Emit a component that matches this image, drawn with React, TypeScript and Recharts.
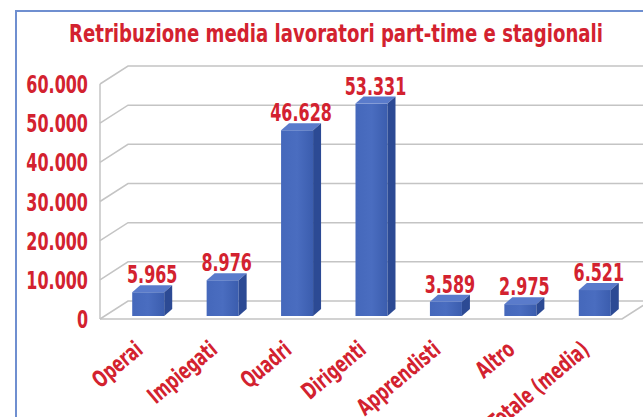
import { BarChart, Bar, XAxis, YAxis, CartesianGrid, LabelList } from "recharts";

const categories = ["Operai", "Impiegati", "Quadri", "Dirigenti", "Apprendisti", "Altro", "Totale (media)"];
const retribuzione = [5965, 8976, 46628, 53331, 3589, 2975, 6521];
const yTicks = [0, 10000, 20000, 30000, 40000, 50000, 60000];

const RED = "#d3222f";
const FONT = "'Liberation Sans Narrow', 'DejaVu Sans Condensed', sans-serif";
// the installed condensed font is still wider than the original, squeeze it
const SQUEEZE = 0.74;
const DEPTH_X = 8;
const DEPTH_Y = 7;
// front edge of the floor/walls vs back wall
const FRONT_X = 100;
const BACK_X = 128;
const WALL_DY = 18;
const PLOT_TOP = 77;
const PLOT_BOTTOM = 316;

const data = categories.map((name, i) => ({ name, value: retribuzione[i] }));

// separatore delle migliaia all'italiana
const fmt = (v: number) => String(v).replace(/\B(?=(\d{3})+(?!\d))/g, ".");

// the front of the axis is drawn a bit lower than the bar scale (3D look)
const frontY = (y: number, top: number, bottom: number) => y + 3 + (4 * (bottom - y)) / (bottom - top);

function Bar3D(props: any) {
  const { x, y, width, height } = props;
  if (height <= 0) return null;
  return (
    <g>
      <rect x={x} y={y} width={width} height={height} fill="url(#barFront)" />
      <polygon
        points={`${x},${y} ${x + DEPTH_X},${y - DEPTH_Y} ${x + width + DEPTH_X},${y - DEPTH_Y} ${x + width},${y}`}
        fill="#5a7bcb"
      />
      <polygon
        points={`${x + width},${y} ${x + width + DEPTH_X},${y - DEPTH_Y} ${x + width + DEPTH_X},${y + height - DEPTH_Y} ${x + width},${y + height}`}
        fill="#2c4a94"
      />
    </g>
  );
}

function GridLine(props: any) {
  const { y1, x2, y, height, index } = props;
  const top = y;
  const bottom = y + height;
  const fy = frontY(y1, top, bottom);
  const by = fy - WALL_DY;
  const isFloor = Math.abs(y1 - bottom) < 0.5;
  return (
    <g key={`grid-${index}`}>
      <polyline
        points={`${FRONT_X},${fy} ${BACK_X},${by} ${x2 + 30},${by}`}
        fill="none"
        stroke="#c4c4c4"
        strokeWidth={1.5}
      />
      {isFloor && (
        <>
          <polyline
            points={`${FRONT_X},${fy} ${x2 - 10},${fy} ${x2 - 10 + (BACK_X - FRONT_X)},${by}`}
            fill="none"
            stroke="#c4c4c4"
            strokeWidth={1.5}
          />
          <line
            x1={FRONT_X}
            y1={fy}
            x2={FRONT_X}
            y2={frontY(top, top, bottom)}
            stroke="#c4c4c4"
            strokeWidth={1.5}
          />
        </>
      )}
    </g>
  );
}

function YTick(props: any) {
  const { y, payload } = props;
  const fy = frontY(y, PLOT_TOP, PLOT_BOTTOM);
  return (
    <text
      transform={`translate(88 ${fy + 9}) scale(${SQUEEZE} 1)`}
      textAnchor="end"
      fill={RED}
      fontFamily={FONT}
      fontWeight="bold"
      fontSize={24}
    >
      {fmt(payload.value)}
    </text>
  );
}

function XTick(props: any) {
  const { x, payload } = props;
  const tx = x - 4;
  const ty = 352;
  return (
    <text
      transform={`translate(${tx} ${ty}) rotate(-40) scale(${SQUEEZE} 1)`}
      textAnchor="end"
      fill={RED}
      fontFamily={FONT}
      fontWeight="bold"
      fontSize={23}
    >
      {payload.value}
    </text>
  );
}

function ValueLabel(props: any) {
  const { x, y, width, value } = props;
  return (
    <text
      transform={`translate(${x + width / 2 + DEPTH_X / 2} ${y - 9}) scale(${SQUEEZE} 1)`}
      textAnchor="middle"
      fill={RED}
      fontFamily={FONT}
      fontWeight="bold"
      fontSize={24}
    >
      {fmt(value)}
    </text>
  );
}

export default function App() {
  return (
    <div style={{ position: "absolute", left: 0, top: 0, width: 643, height: 417, background: "#fff", overflow: "hidden" }}>
      <div
        style={{
          position: "absolute",
          left: 15,
          top: 10,
          width: 640,
          height: 420,
          borderLeft: "2px solid #6f8fd0",
          borderTop: "2px solid #6f8fd0",
        }}
      />
      <svg width={643} height={60} style={{ position: "absolute", left: 0, top: 0 }}>
        <text
          x={336}
          y={42}
          textAnchor="middle"
          textLength={534}
          lengthAdjust="spacingAndGlyphs"
          fill={RED}
          fontFamily={FONT}
          fontWeight="bold"
          fontSize={25}
        >
          Retribuzione media lavoratori part-time e stagionali
        </text>
      </svg>
      <div style={{ position: "absolute", left: 0, top: 0 }}>
        <BarChart
          width={643}
          height={417}
          data={data}
          margin={{ top: PLOT_TOP, right: 11, bottom: 0, left: 0 }}
          barCategoryGap="28.5%"
        >
          <defs>
            <linearGradient id="barFront" x1="0" y1="0" x2="1" y2="0">
              <stop offset="0%" stopColor="#4568bb" />
              <stop offset="50%" stopColor="#4a6dc0" />
              <stop offset="100%" stopColor="#3b5dae" />
            </linearGradient>
          </defs>
          <CartesianGrid vertical={false} horizontal={GridLine} />
          <XAxis dataKey="name" height={417 - PLOT_BOTTOM} axisLine={false} tickLine={false} interval={0} tick={XTick} />
          <YAxis
            width={111}
            domain={[0, 60000]}
            ticks={yTicks}
            axisLine={false}
            tickLine={false}
            tick={YTick}
          />
          <Bar dataKey="value" shape={Bar3D} isAnimationActive={false}>
            <LabelList dataKey="value" content={ValueLabel} />
          </Bar>
        </BarChart>
      </div>
    </div>
  );
}
